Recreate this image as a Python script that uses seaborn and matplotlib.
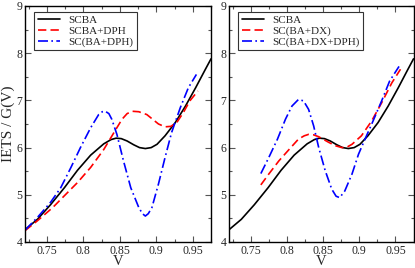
import matplotlib
matplotlib.use('Agg')
import matplotlib.pyplot as plt
from matplotlib.ticker import MultipleLocator
import seaborn as sns

# ── Data ─────────────────────────────────────────────────────────────────────
v_scba = [0.720, 0.737, 0.755, 0.774, 0.792, 0.810, 0.828, 0.838, 0.845, 0.852,
          0.860, 0.869, 0.877, 0.885, 0.893, 0.901, 0.912, 0.926, 0.940, 0.954,
          0.967, 0.975]
y_scba = [4.26, 4.48, 4.79, 5.15, 5.52, 5.84, 6.08, 6.17, 6.20, 6.19,
          6.14, 6.06, 6.00, 5.98, 6.00, 6.07, 6.25, 6.53, 6.88, 7.27,
          7.65, 7.88]

v_dph = [0.720, 0.737, 0.758, 0.774, 0.792, 0.810, 0.828, 0.842, 0.853, 0.860,
         0.867, 0.876, 0.887, 0.895, 0.903, 0.912, 0.920, 0.928, 0.937, 0.946,
         0.957]
y_dph = [4.24, 4.45, 4.73, 4.98, 5.26, 5.58, 5.96, 6.32, 6.60, 6.72,
         6.77, 6.76, 6.70, 6.60, 6.50, 6.44, 6.45, 6.53, 6.74, 6.99,
         7.20]

v_scdph = [0.720, 0.737, 0.755, 0.769, 0.783, 0.796, 0.810, 0.821, 0.826, 0.830,
           0.835, 0.839, 0.846, 0.855, 0.865, 0.876, 0.881, 0.885, 0.889, 0.894,
           0.903, 0.912, 0.921, 0.933, 0.944, 0.955]
y_scdph = [4.25, 4.52, 4.84, 5.15, 5.58, 6.00, 6.42, 6.70, 6.76, 6.77,
           6.72, 6.60, 6.28, 5.72, 5.15, 4.73, 4.60, 4.55, 4.60, 4.73,
           5.23, 5.79, 6.32, 6.85, 7.27, 7.55]

v_dx = [0.764, 0.775, 0.789, 0.803, 0.816, 0.824, 0.830, 0.837, 0.844, 0.858,
        0.867, 0.876, 0.883, 0.890, 0.903, 0.917, 0.931, 0.945, 0.957]
y_dx = [5.21, 5.44, 5.72, 5.96, 6.18, 6.25, 6.28, 6.27, 6.23, 6.11,
        6.04, 6.00, 6.01, 6.07, 6.25, 6.56, 6.95, 7.37, 7.66]

v_dxdph = [0.764, 0.775, 0.787, 0.798, 0.807, 0.816, 0.823, 0.830, 0.837, 0.844,
           0.853, 0.862, 0.868, 0.873, 0.880, 0.890, 0.899, 0.908, 0.919, 0.931,
           0.942, 0.955]
y_dxdph = [5.45, 5.79, 6.18, 6.60, 6.88, 7.02, 6.99, 6.81, 6.46, 6.00,
           5.51, 5.12, 4.97, 4.94, 5.08, 5.44, 5.86, 6.18, 6.56, 6.99,
           7.41, 7.72]

# ── Style ─────────────────────────────────────────────────────────────────────
sns.set_style('ticks')
plt.rcParams['font.family'] = ['Liberation Serif', 'DejaVu Serif']

SOLID = '-'
DASH = (0, (5, 2.5))
DASHDOT = (0, (6, 2, 1, 2))

fig = plt.figure(figsize=(4.15, 2.68), dpi=100)
ax_l = fig.add_axes([25 / 415, 1 - 242 / 268, 186 / 415, 236 / 268])
ax_r = fig.add_axes([229 / 415, 1 - 242 / 268, 184.5 / 415, 236 / 268])

panels = [
    (ax_l, [(v_scba, y_scba, 'black', SOLID, 'SCBA'),
            (v_dph, y_dph, 'red', DASH, 'SCBA+DPH'),
            (v_scdph, y_scdph, 'blue', DASHDOT, 'SC(BA+DPH)')]),
    (ax_r, [(v_scba, y_scba, 'black', SOLID, 'SCBA'),
            (v_dx, y_dx, 'red', DASH, 'SC(BA+DX)'),
            (v_dxdph, y_dxdph, 'blue', DASHDOT, 'SC(BA+DX+DPH)')]),
]

for ax, series in panels:
    for vx, vy, col, ls, lab in series:
        sns.lineplot(x=vx, y=vy, ax=ax, color=col, linestyle=ls, lw=1.2,
                     label=lab, sort=False, estimator=None)
    ax.set_xlim(0.72, 0.975)
    ax.set_ylim(4, 9)
    ax.xaxis.set_minor_locator(MultipleLocator(0.025))
    ax.yaxis.set_major_locator(MultipleLocator(1))
    ax.yaxis.set_minor_locator(MultipleLocator(0.5))
    ax.set_xticks([0.75, 0.8, 0.85, 0.9, 0.95])
    ax.set_xticklabels(['0.75', '0.8', '0.85', '0.9', '0.95'])
    ax.tick_params(which='both', direction='in', top=True, right=True,
                   labelsize=8.5, pad=2, width=0.8, color='#555555')
    ax.tick_params(which='major', length=4)
    ax.tick_params(which='minor', length=2)
    for sp in ax.spines.values():
        sp.set_linewidth(1.0)
        sp.set_color('black')
    ax.set_xlabel('V', fontsize=10.5, labelpad=-1)
    ax.set_ylabel('')
    leg = ax.legend(loc='upper left', fontsize=8, frameon=True, fancybox=False,
                    framealpha=1, edgecolor='#333333', handlelength=2.0,
                    borderpad=0.3, labelspacing=0.1, handletextpad=0.8,
                    borderaxespad=0.5, bbox_to_anchor=(0.02, 1.0))
    leg.get_frame().set_linewidth(0.8)

ax_l.set_ylabel('IETS / G(V)', fontsize=11, labelpad=1)

fig.savefig('out.png', dpi=100)
